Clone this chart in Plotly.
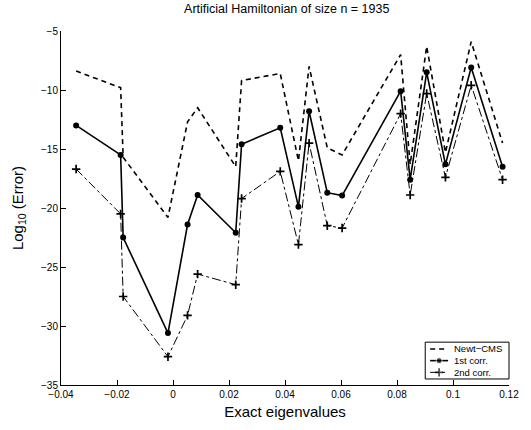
import plotly.graph_objects as go

title_text = "Artificial Hamiltonian of size n = 1935"
x_vals = [-0.0346, -0.0187, -0.0178, -0.0018, 0.0052, 0.0088, 0.0224, 0.0245, 0.0383, 0.0448,
          0.0486, 0.0551, 0.0604, 0.0813, 0.0847, 0.0906, 0.0973, 0.1065, 0.1177]
newt_cms = [-8.4, -9.8, -15.7, -20.8, -12.7, -11.5, -16.5, -9.2, -8.6, -16.0,
            -8.0, -14.9, -15.5, -7.0, -16.3, -6.3, -15.3, -5.9, -14.5]
first_corr = [-13.0, -15.5, -22.5, -30.6, -21.4, -18.9, -22.1, -14.6, -13.2, -19.9,
              -11.8, -18.7, -18.95, -10.1, -17.6, -8.5, -16.3, -8.1, -16.5]
second_corr = [-16.7, -20.5, -27.5, -32.6, -29.1, -25.6, -26.5, -19.2, -16.9, -23.1,
               -14.5, -21.5, -21.7, -12.0, -18.9, -10.3, -17.4, -9.6, -17.6]
series_names = ["Newt\u2212CMS", "1st corr.", "2nd corr."]
x_ticks = [-0.04, -0.02, 0, 0.02, 0.04, 0.06, 0.08, 0.1, 0.12]
x_tick_text = ["\u22120.04", "\u22120.02", "0", "0.02", "0.04", "0.06", "0.08", "0.1", "0.12"]
y_ticks = [-35, -30, -25, -20, -15, -10, -5]

styles = [
    dict(line=dict(color="black", width=1.6, dash="5px,4px"), mode="lines",
         marker=dict(size=1, color="black")),
    dict(line=dict(color="black", width=1.6), mode="lines+markers",
         marker=dict(symbol="circle", size=6, color="black")),
    dict(line=dict(color="black", width=1, dash="dashdot"), mode="lines+markers",
         marker=dict(symbol="cross-thin", size=6, line=dict(color="black", width=1.7))),
]
series = [newt_cms, first_corr, second_corr]

fig = go.Figure()
for name, ys, st in zip(series_names, series, styles):
    fig.add_trace(go.Scatter(x=x_vals, y=ys, name=name, showlegend=False, **st))

# manual compact legend (paper-like overlay axes)
leg_x0, leg_x1, leg_y0, leg_y1 = 0.813, 1.0, 0.017, 0.121
row_y = [0.1018, 0.0688, 0.0358]
samp_x = [0.824, 0.844, 0.864]
fig.add_shape(type="rect", xref="paper", yref="paper", x0=leg_x0, x1=leg_x1, y0=leg_y0, y1=leg_y1,
              line=dict(color="black", width=1), fillcolor="white", layer="below")
for i, (name, st) in enumerate(zip(series_names, styles)):
    mk = dict(st["marker"])
    if i == 0:
        mk["size"] = [0, 0, 0]
    else:
        mk["size"] = [0, mk["size"], 0]
    fig.add_trace(go.Scatter(x=samp_x, y=[row_y[i]] * 3, xaxis="x2", yaxis="y2",
                             mode=st["mode"], line=st["line"], marker=mk,
                             showlegend=False, hoverinfo="skip"))
    fig.add_annotation(x=0.873, y=row_y[i], xref="paper", yref="paper", text=name,
                       showarrow=False, xanchor="left", yanchor="middle",
                       font=dict(size=9.5))

font_family = "Liberation Sans, Arial, sans-serif"
fig.update_layout(
    width=531, height=430, autosize=False,
    margin=dict(l=60.5, r=18.5, t=30.5, b=36),
    paper_bgcolor="white", plot_bgcolor="white",
    font=dict(family=font_family, color="black", size=10),
    title=dict(text=title_text, x=0.54, xanchor="center", y=0.99, yanchor="top",
               font=dict(size=12.5, family=font_family)),
    xaxis=dict(range=[-0.04, 0.12], tickvals=x_ticks, ticktext=x_tick_text,
               showgrid=False, zeroline=False, showline=True, linecolor="black",
               linewidth=1, ticks="inside", ticklen=5, tickcolor="black",
               title=dict(text="Exact eigenvalues", font=dict(size=15), standoff=7)),
    yaxis=dict(range=[-35, -5], tickvals=y_ticks,
               showgrid=False, zeroline=False, showline=True, linecolor="black",
               linewidth=1, ticks="inside", ticklen=5, tickcolor="black",
               title=dict(text="Log<sub>10</sub> (Error)", font=dict(size=15), standoff=13)),
    xaxis2=dict(domain=[0, 1], range=[0, 1], overlaying="x", visible=False, fixedrange=True),
    yaxis2=dict(domain=[0, 1], range=[0, 1], overlaying="y", visible=False, fixedrange=True),
)

fig.write_html("out.html", config={"displayModeBar": False},
               post_script="document.body.style.margin='0';")
